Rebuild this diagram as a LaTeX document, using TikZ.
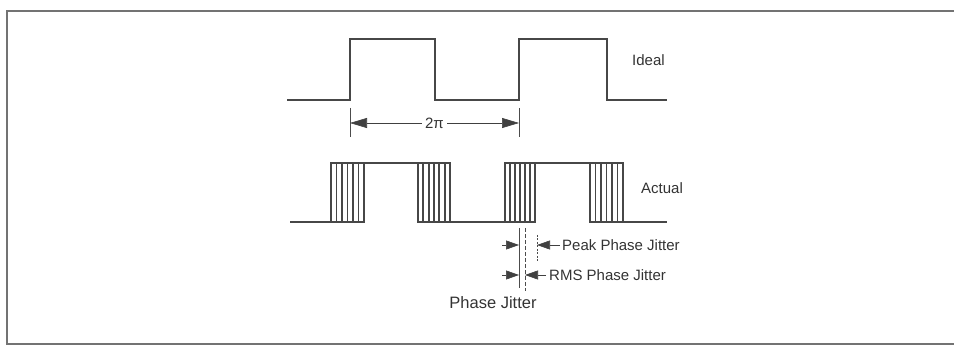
\documentclass[tikz,border=0pt]{standalone}
\usepackage{fontspec}
\setmainfont{Liberation Sans}
\usetikzlibrary{arrows.meta}
\begin{document}
\begin{tikzpicture}[x=1pt,y=-1pt]

    \tikzset{
      wave/.style={line width=2.4pt, color=black!72, line join=miter},
      burst/.style={line width=1.8pt, color=black!72},
      guide/.style={line width=0.6pt, color=black!70},
      dimarrow/.style={
        line width=0.6pt, color=black!75,
        {Triangle[length=17pt,width=10pt]}-{Triangle[length=17pt,width=10pt]},
      },
      tick/.style={line width=0.6pt, color=black!75, -{Triangle[length=13pt,width=9pt]}},
      txt/.style={font=\fontsize{15}{18}\selectfont, text=black!80, inner sep=0pt},
    }
    \useasboundingbox (0,0) rectangle (954,358);
    % frame
    \draw[line width=1.6pt, color=black!55] (960,11) -- (7,11) -- (7,344) -- (960,344);

    % ideal waveform
    \draw[wave] (287,100) -- (350,100) -- (350,39) -- (435,39) -- (435,100)
      -- (519,100) -- (519,39) -- (607,39) -- (607,100) -- (667,100);
    \node[txt, anchor=west] (ideal) at (632,60) {Ideal};

    % period
    \coordinate (rise1) at (350,123);
    \coordinate (rise2) at (519,123);
    \draw[guide] (350,108) -- (350,137);
    \draw[guide] (519,108) -- (519,137);
    \draw[dimarrow] (rise1) -- node[txt, fill=white, inner sep=3pt] (period) {2π} (rise2);

    % actual waveform
    \draw[wave] (290,222) -- (331,222);
    \draw[wave] (364,163) -- (418,163);
    \draw[wave] (450,222) -- (505,222);
    \draw[wave] (535,163) -- (590,163);
    \draw[wave] (623,222) -- (667,222);
    \foreach \a/\b in {331/364, 418/450, 505/535, 590/623} {
      \draw[wave] (\a,222) rectangle (\b,163);
      \foreach \k in {1,...,5}
        \draw[burst] ({\a+\k*(\b-\a)/6},222) -- ++(0,-59);
    }
    \node[txt, anchor=west] (actual) at (641,188) {Actual};

    % jitter
    \coordinate (edge) at (519,228);
    \coordinate (rms) at (525,228);
    \coordinate (peak) at (537,235);
    \draw[guide] (edge) -- ++(0,60);
    \draw[guide, dash pattern=on 4pt off 2pt] (rms) -- ++(0,63);
    \draw[guide, dash pattern=on 2pt off 1.5pt] (peak) -- ++(0,27);

    \draw[tick] (502,245) -- (edge |- 0,245);
    \draw[tick] (560,245) -- (peak |- 0,245);
    \node[txt, anchor=west] (peaklbl) at (562,245) {Peak Phase Jitter};

    \draw[tick] (502,275) -- (edge |- 0,275);
    \draw[tick] (546,275) -- (rms |- 0,275);
    \node[txt, anchor=west] (rmslbl) at (549,275) {RMS Phase Jitter};

    \node[txt, font=\fontsize{16.5}{20}\selectfont] (jitter) at (493,303) {Phase Jitter};

\end{tikzpicture}
\end{document}
